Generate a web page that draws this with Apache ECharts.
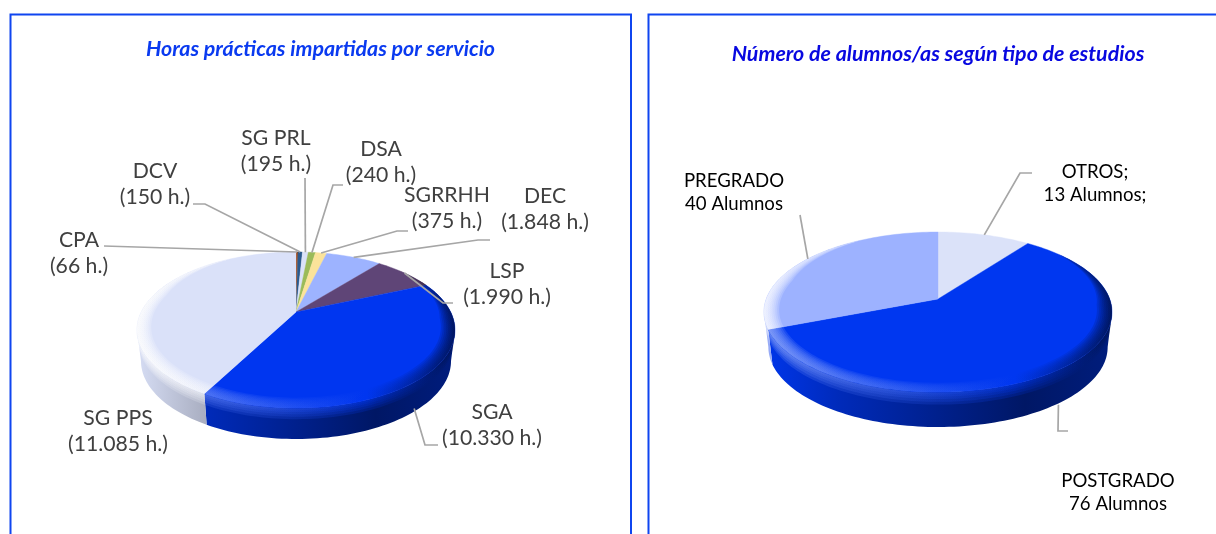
<!DOCTYPE html>
<html><head><meta charset="utf-8">
<style>html,body{margin:0;padding:0;background:#fff;overflow:hidden}#c{width:1216px;height:534px}</style>
<script src="https://cdn.jsdelivr.net/npm/echarts@6/dist/echarts.min.js"></script>
</head><body><div id="c"></div>
<script>
const hoursNames = ['CPA','DCV','SG PRL','DSA','SGRRHH','DEC','LSP','SGA','SG PPS'];
const hoursValues = [66,150,195,240,375,1848,1990,10330,11085];
const hoursColors = ['#a0440f','#2a5a8e','#dbe2f8','#9bbb59','#fbe39a','#9db3ff','#5f4577','#0036f0','#dae1f9'];
const studentNames = ['OTROS','POSTGRADO','PREGRADO'];
const studentValues = [13,76,40];
const studentColors = ['#dbe2f9','#0037f0','#9db2ff'];

const titleLeft = 'Horas prácticas impartidas por servicio';
const titleRight = 'Número de alumnos/as según tipo de estudios';

const FONT = 'Lato';
const fmtHours = v => String(v).replace(/\B(?=(\d{3})+$)/g, '.');
const hoursLabels = hoursNames.map((n,i) => n + '\n(' + fmtHours(hoursValues[i]) + ' h.)');
const studentLabels = ['OTROS;\n' + studentValues[0] + ' Alumnos;', 'POSTGRADO\n' + studentValues[1] + ' Alumnos', 'PREGRADO\n' + studentValues[2] + ' Alumnos'];

// layout only: perspective of each pie, label anchors and leader-line elbows
const hoursGeom = {cx:296, apexY:312, a:73.85, k:-0.2308, c:154.7, depth:31};
const studentGeom = {cx:938, apexY:299, a:77.9, k:-0.1625, c:171.7, depth:35};
const hoursLayout = [
  {at:[79,253], line:[[104,246]]},
  {at:[155,184], line:[[205,204],[193,204]]},
  {at:[276,151], line:[[305,178]]},
  {at:[381,162], line:[[333,185],[343,185]]},
  {at:[447,208], line:[[397,231],[408,231]]},
  {at:[545,209], line:[[478,240],[490,240]]},
  {at:[507,284], line:[[443,303],[453,303]]},
  {at:[492,425], line:[[425,445],[438,445]], wall:true, dx:-8},
  {at:[118,431], line:null}
];
const studentLayout = [
  {at:[1095,183.5], line:[[1020,173],[1032,173]]},
  {at:[1118,492.5], line:[[1058,431],[1068,431]], wall:true},
  {at:[734,192.5], line:[[800,215]]}
];

function rgb(hex){return [1,3,5].map(i=>parseInt(hex.substr(i,2),16));}
function css(c){return 'rgb('+c.map(v=>Math.round(Math.max(0,Math.min(255,v)))).join(',')+')';}
function scale(hex,f){return css(rgb(hex).map(v=>v*f));}
function lum(hex){const c=rgb(hex);return (0.3*c[0]+0.59*c[1]+0.11*c[2])/255;}
function lighten(hex,w){const t=Math.min(1,w*(1+2*lum(hex)));return css(rgb(hex).map(v=>v+(255-v)*t));}

function pieSeries(names, values, colors, g, layout){
  const total = values.reduce((s,v)=>s+v,0);
  const cum = []; values.reduce((s,v,i)=>(cum[i]=s,s+v),0);
  const project = (deg,r)=>{
    const t = deg*Math.PI/180, u = r*Math.sin(t), v = -r*Math.cos(t), d = 1+g.k*v;
    return [g.cx+g.c*u/d, g.apexY+g.a*v/d];
  };
  const arc = (a,b,fn)=>{
    const n = Math.max(2,Math.ceil(Math.abs(b-a)/1.5)), out=[];
    for(let i=0;i<=n;i++){const d=a+(b-a)*i/n; out.push(fn(d));}
    return out;
  };
  const hw = g.c/Math.sqrt(1-g.k*g.k);
  const x0 = g.cx-hw, x1 = g.cx+hw;
  const visFrom = Math.acos(g.k)*180/Math.PI, visTo = 360-visFrom;
  const BOTTOM = 0.975;
  const wallPt = (d,t)=>{const p=project(d,1);return [g.cx+(p[0]-g.cx)*(1-(1-BOTTOM)*t),p[1]+g.depth*t];};
  return {
    type:'custom', coordinateSystem:'none', silent:true, animation:false, clip:false,
    data: values.map((v,i)=>({name:names[i],value:v})),
    renderItem(params, api){
      const i = params.dataIndex, val = api.value(0), col = colors[i];
      const a = cum[i]/total*360, b = (cum[i]+val)/total*360, mid=(a+b)/2;
      const kids = [];
      const rimFill = {type:'linear',x:x0,y:0,x2:x1,y2:0,global:true,colorStops:[
        {offset:0,color:lighten(col,0.4)},{offset:0.22,color:lighten(col,0.24)},
        {offset:0.5,color:lighten(col,0.1)},{offset:0.72,color:col},
        {offset:1,color:scale(col,0.3)}]};
      // side wall
      const wa = Math.max(a,visFrom), wb = Math.min(b,visTo);
      if(wb>wa){
        const pts = arc(wa,wb,d=>project(d,1)).concat(arc(wb,wa,d=>wallPt(d,1)));
        kids.push({type:'polygon', z2:1, shape:{points:pts}, style:{
          fill:{type:'linear',x:x0,y:0,x2:x1,y2:0,global:true,colorStops:[
            {offset:0,color:scale(col,0.98)},{offset:0.22,color:scale(col,0.77)},
            {offset:0.75,color:scale(col,0.42)},{offset:1,color:scale(col,0.52)}]},
          stroke:null}});
        // soft transition from the rim into the wall
        [0.36,0.28,0.2,0.13,0.07].forEach(t=>{
          const band = arc(wa,wb,d=>project(d,1)).concat(arc(wb,wa,d=>wallPt(d,t)));
          kids.push({type:'polygon', z2:1, shape:{points:band}, style:{opacity:0.2, fill:rimFill, stroke:null}});
        });
      }
      // top face
      const face = [project(0,0)].concat(arc(a,b,d=>project(d,1)));
      kids.push({type:'polygon', z2:2, shape:{points:face}, style:{fill:col, stroke:col, lineWidth:0.4}});
      // soft bevel on the rim: many thin translucent rings
      const ra = Math.max(a,50), rb = Math.min(b,330);
      if(rb>ra){
        const clamp = x=>Math.max(0,Math.min(1,x));
        [0.085,0.074,0.063,0.052,0.042,0.032,0.022,0.012].forEach(W=>{
          const width = d=>W*clamp((d-50)/45)*clamp((330-d)/45);
          const pts = arc(ra,rb,d=>project(d,1)).concat(arc(rb,ra,d=>project(d,1-width(d))));
          kids.push({type:'polygon', z2:3, shape:{points:pts}, style:{opacity:0.2, fill:rimFill, stroke:null}});
        });
      }
      // leader line, starting from the slice's own middle
      const lay = layout[i];
      if(lay.line){
        const p = project(mid,1);
        const start = [p[0]+(lay.dx||0), p[1]+(lay.wall?g.depth:0)];
        kids.push({type:'polyline', z2:5, shape:{points:[start].concat(lay.line)},
          style:{stroke:'#a6a6a6',lineWidth:1.7,fill:null}});
      }
      return {type:'group', children:kids};
    }
  };
}

function textEl(text, x, y, size, color, lh){
  return {type:'text', z:10, x:x, y:y, style:{text:text, fontFamily:FONT, fontSize:size, fill:color,
    align:'center', verticalAlign:'middle', lineHeight:lh}};
}
function boldTitle(text,x,y,color){
  return {type:'text', z:10, x:x, y:y, style:{text:text, fontFamily:FONT, fontSize:21.4, fontWeight:'bold', fontStyle:'italic',
    fill:color, align:'center', verticalAlign:'middle'}};
}
const graphics = [
  {type:'rect', z:0, shape:{x:10.5,y:14.5,width:620.5,height:540}, style:{fill:'none',stroke:'#0f45f0',lineWidth:2}},
  {type:'rect', z:0, shape:{x:648.5,y:14.5,width:600,height:540}, style:{fill:'none',stroke:'#0f45f0',lineWidth:2}},
  boldTitle(titleLeft,320.5,49,'#0a3af0'),
  boldTitle(titleRight,938,54,'#0808e0')
];
hoursLabels.forEach((t,i)=>graphics.push(textEl(t,hoursLayout[i].at[0],hoursLayout[i].at[1],21.2,'#404040',26)));
studentLabels.forEach((t,i)=>graphics.push(textEl(t,studentLayout[i].at[0],studentLayout[i].at[1],18.6,'#000000',23)));

const chart = echarts.init(document.getElementById('c'), null, {renderer:'canvas'});
chart.setOption({
  animation:false,
  backgroundColor:'#ffffff',
  graphic:{elements:graphics},
  series:[
    pieSeries(hoursNames,hoursValues,hoursColors,hoursGeom,hoursLayout),
    pieSeries(studentNames,studentValues,studentColors,studentGeom,studentLayout)
  ]
});
</script></body></html>
